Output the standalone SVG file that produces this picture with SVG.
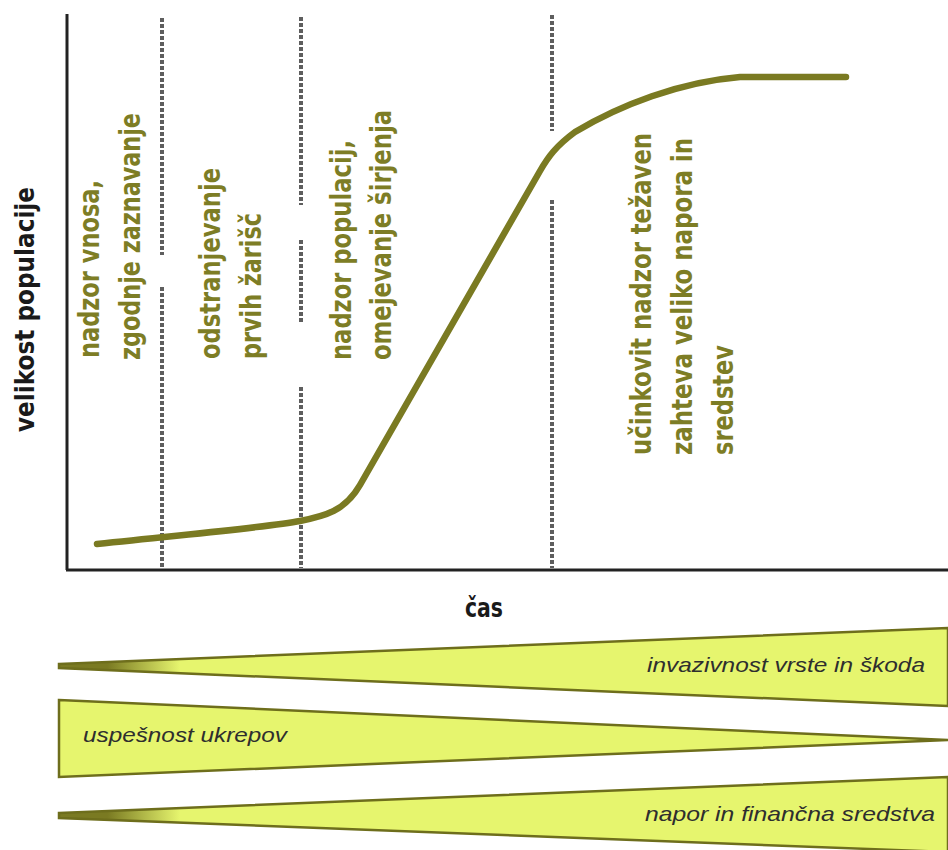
<svg xmlns="http://www.w3.org/2000/svg" width="948" height="850" viewBox="0 0 948 850">
  <style>
    .lbl { font-family: "DejaVu Sans Condensed", "DejaVu Sans", sans-serif; font-weight: bold; font-size: 29px; fill: #7d7d25; }
    .axlbl { font-family: "DejaVu Sans Condensed", "DejaVu Sans", sans-serif; font-weight: bold; font-size: 26px; fill: #1a1a1a; }
    .wtxt { font-family: "Liberation Sans", Arial, sans-serif; font-style: italic; font-size: 21px; fill: #2e2e2e; }
    .axis { stroke: #222; stroke-width: 3; fill: none; }
    .dot { stroke: #5e5e5e; stroke-width: 4; stroke-dasharray: 4 2; fill: none; }
    .curve { stroke: #7a7a22; stroke-width: 6.5; fill: none; stroke-linecap: round; stroke-linejoin: round; }
    .wedge { stroke: #6e6e1c; stroke-width: 2.5; stroke-linejoin: miter; }
  </style>
  <defs>
    <linearGradient id="tip" gradientUnits="userSpaceOnUse" x1="59" y1="0" x2="180" y2="0">
      <stop offset="0.4" stop-color="#7a7a22"/>
      <stop offset="1" stop-color="#e6f56e"/>
    </linearGradient>
  </defs>
  <rect width="948" height="850" fill="#ffffff"/>

  <g id="axes">
    <line class="axis" x1="67" y1="14" x2="67" y2="570"/>
    <line class="axis" x1="66" y1="570" x2="948" y2="570"/>
  </g>

  <g id="dividers">
    <line class="dot" x1="162" y1="18" x2="162" y2="255"/>
    <line class="dot" x1="162" y1="287" x2="162" y2="568"/>
    <line class="dot" x1="301" y1="17" x2="301" y2="205"/>
    <line class="dot" x1="301" y1="240" x2="301" y2="323"/>
    <line class="dot" x1="301" y1="387" x2="301" y2="568"/>
    <line class="dot" x1="552" y1="15" x2="552" y2="131"/>
    <line class="dot" x1="552" y1="200" x2="552" y2="568"/>
  </g>

  <g id="curve">
    <path class="curve" d="M 97 544 C 200 533 270 527 300 521 C 325 516 345 511 360 485 L 540 171 C 548 157 556 146 575 132 C 620 105 680 82 740 77 L 846 77"/>
  </g>

  <g id="phase1">
    <text class="lbl" transform="translate(99,358) rotate(-90)" textLength="178" lengthAdjust="spacingAndGlyphs">nadzor vnosa,</text>
    <text class="lbl" transform="translate(140,360) rotate(-90)" textLength="247" lengthAdjust="spacingAndGlyphs">zgodnje zaznavanje</text>
  </g>
  <g id="phase2">
    <text class="lbl" transform="translate(220,359) rotate(-90)" textLength="191" lengthAdjust="spacingAndGlyphs">odstranjevanje</text>
    <text class="lbl" transform="translate(261,359) rotate(-90)" textLength="146" lengthAdjust="spacingAndGlyphs">prvih žarišč</text>
  </g>
  <g id="phase3">
    <text class="lbl" transform="translate(351,360) rotate(-90)" textLength="220" lengthAdjust="spacingAndGlyphs">nadzor populacij,</text>
    <text class="lbl" transform="translate(391,360) rotate(-90)" textLength="250" lengthAdjust="spacingAndGlyphs">omejevanje širjenja</text>
  </g>
  <g id="phase4">
    <text class="lbl" transform="translate(651,455) rotate(-90)" textLength="322" lengthAdjust="spacingAndGlyphs">učinkovit nadzor težaven</text>
    <text class="lbl" transform="translate(692,455) rotate(-90)" textLength="317" lengthAdjust="spacingAndGlyphs">zahteva veliko napora in</text>
    <text class="lbl" transform="translate(733,455) rotate(-90)" textLength="110" lengthAdjust="spacingAndGlyphs">sredstev</text>
  </g>

  <g id="axis-labels">
    <text class="axlbl" transform="translate(34,432) rotate(-90)" textLength="245" lengthAdjust="spacingAndGlyphs">velikost populacije</text>
    <text class="axlbl" x="465" y="617" textLength="38" lengthAdjust="spacingAndGlyphs">čas</text>
  </g>

  <g id="wedge-invazivnost">
    <polygon class="wedge" fill="url(#tip)" points="59,664 948,628 948,706 59,668"/>
    <text class="wtxt" x="647" y="672" textLength="278" lengthAdjust="spacingAndGlyphs">invazivnost vrste in škoda</text>
  </g>
  <g id="wedge-uspesnost">
    <polygon class="wedge" fill="#e6f56e" points="59,700 948,740 59,777"/>
    <text class="wtxt" x="83" y="742" textLength="204" lengthAdjust="spacingAndGlyphs">uspešnost ukrepov</text>
  </g>
  <g id="wedge-napor">
    <polygon class="wedge" fill="url(#tip)" points="59,813 948,777 948,852 59,818"/>
    <text class="wtxt" x="645" y="821" textLength="290" lengthAdjust="spacingAndGlyphs">napor in finančna sredstva</text>
  </g>
</svg>
